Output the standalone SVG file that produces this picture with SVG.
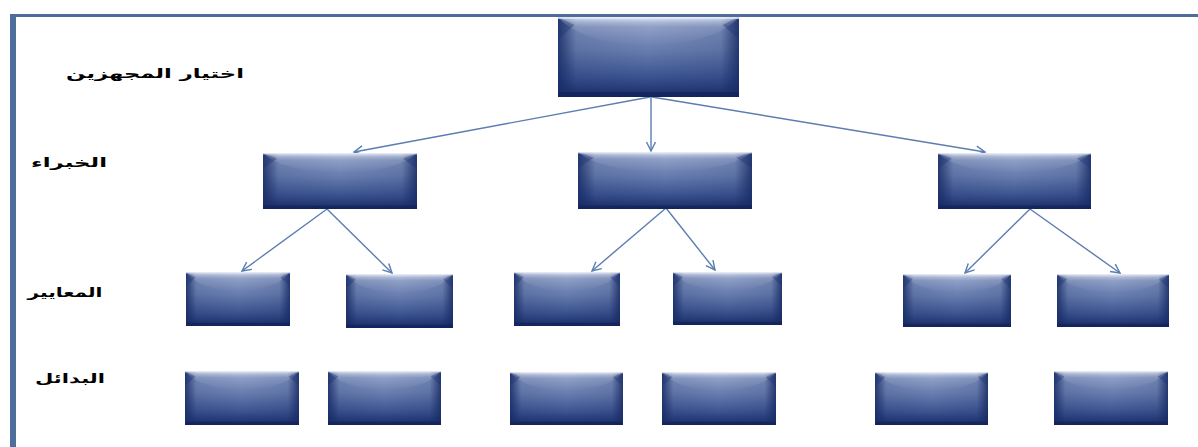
<svg xmlns="http://www.w3.org/2000/svg" xmlns:xlink="http://www.w3.org/1999/xlink" width="1198" height="447" viewBox="0 0 1198 447">
<style>
.lbl{font-family:"DejaVu Sans","Noto Sans",sans-serif;font-weight:bold;font-size:13px;fill:#000;text-anchor:middle}
.con line{stroke:#5b7db0;stroke-width:1.4;marker-end:url(#arr)}
.frame{stroke:#4d6d9a;fill:none}
</style>
<defs>
<linearGradient id="gv" x1="0" y1="0" x2="0" y2="1">
<stop offset="0" stop-color="#b4c2e0"/>
<stop offset="0.07" stop-color="#8497c2"/>
<stop offset="0.4" stop-color="#6a7fb0"/>
<stop offset="0.75" stop-color="#3b5390"/>
<stop offset="1" stop-color="#182b66"/>
</linearGradient>
<linearGradient id="gh" x1="0" y1="0" x2="1" y2="0">
<stop offset="0" stop-color="#172a64" stop-opacity="0.85"/>
<stop offset="0.1" stop-color="#172a64" stop-opacity="0.15"/>
<stop offset="0.5" stop-color="#172a64" stop-opacity="0"/>
<stop offset="0.9" stop-color="#172a64" stop-opacity="0.15"/>
<stop offset="1" stop-color="#172a64" stop-opacity="0.85"/>
</linearGradient>
<linearGradient id="ghl" x1="0" y1="0" x2="0" y2="1">
<stop offset="0" stop-color="#ffffff" stop-opacity="0.55"/>
<stop offset="0.35" stop-color="#ffffff" stop-opacity="0.12"/>
<stop offset="1" stop-color="#ffffff" stop-opacity="0"/>
</linearGradient>
<symbol id="box" viewBox="0 0 100 50" preserveAspectRatio="none">
<rect x="0" y="0" width="100" height="50" fill="url(#gv)"/>
<rect x="0" y="0" width="100" height="50" fill="url(#gh)"/>
<path d="M0,0 L100,0 Q88,16 50,18 Q12,16 0,0 Z" fill="url(#ghl)"/>
<path d="M0,0 L9,5 L0,14 Z M100,0 L91,5 L100,14 Z" fill="#1f3574" fill-opacity="0.4"/>
<rect x="0" y="0" width="100" height="1.2" fill="#e6ecf8" fill-opacity="0.8"/>
<rect x="0" y="47" width="100" height="3" fill="#122258" fill-opacity="0.7"/>
</symbol>
<marker id="arr" markerUnits="userSpaceOnUse" markerWidth="14" markerHeight="14" viewBox="-11 -7 14 14" refX="0" refY="0" orient="auto">
<path d="M-9,-4.5 L0,0 L-9,4.5" fill="none" stroke="#5b7db0" stroke-width="1.4"/>
</marker>
</defs>
<rect width="1198" height="447" fill="#ffffff"/>
<line class="frame" x1="10" y1="15.5" x2="1198" y2="15.5" stroke-width="3"/>
<line class="frame" x1="13" y1="14" x2="13" y2="447" stroke-width="6"/>

<g id="labels">
<text class="lbl" x="155" y="78" textLength="178" lengthAdjust="spacingAndGlyphs">اختيار  المجهزين</text>
<text class="lbl" x="69" y="167" textLength="76" lengthAdjust="spacingAndGlyphs">الخبراء</text>
<text class="lbl" x="65" y="297" textLength="75" lengthAdjust="spacingAndGlyphs">المعايير</text>
<text class="lbl" x="70" y="383" textLength="70" lengthAdjust="spacingAndGlyphs">البدائل</text>
</g>

<g id="connectors" class="con">
<line x1="650" y1="97" x2="354" y2="152"/>
<line x1="651" y1="97" x2="651" y2="151"/>
<line x1="652" y1="97" x2="985" y2="152"/>
<line x1="327" y1="209" x2="242" y2="271"/>
<line x1="327" y1="209" x2="392" y2="273"/>
<line x1="666" y1="208" x2="592" y2="271"/>
<line x1="666" y1="208" x2="715" y2="270"/>
<line x1="1030" y1="209" x2="965" y2="273"/>
<line x1="1030" y1="209" x2="1120" y2="273"/>
</g>

<g id="n0"><use xlink:href="#box" x="558" y="17" width="181" height="80"/></g>
<g id="n1"><use xlink:href="#box" x="263" y="153" width="154" height="56"/></g>
<g id="n2"><use xlink:href="#box" x="578" y="152" width="174" height="57"/></g>
<g id="n3"><use xlink:href="#box" x="938" y="153" width="153" height="56"/></g>
<g id="n4"><use xlink:href="#box" x="186" y="272" width="104" height="54"/></g>
<g id="n5"><use xlink:href="#box" x="346" y="274" width="107" height="54"/></g>
<g id="n6"><use xlink:href="#box" x="514" y="272" width="106" height="54"/></g>
<g id="n7"><use xlink:href="#box" x="673" y="272" width="109" height="53"/></g>
<g id="n8"><use xlink:href="#box" x="903" y="274" width="108" height="53"/></g>
<g id="n9"><use xlink:href="#box" x="1057" y="274" width="112" height="53"/></g>
<g id="n10"><use xlink:href="#box" x="185" y="371" width="114" height="54"/></g>
<g id="n11"><use xlink:href="#box" x="328" y="371" width="113" height="54"/></g>
<g id="n12"><use xlink:href="#box" x="510" y="372" width="113" height="53"/></g>
<g id="n13"><use xlink:href="#box" x="662" y="372" width="114" height="53"/></g>
<g id="n14"><use xlink:href="#box" x="875" y="372" width="113" height="53"/></g>
<g id="n15"><use xlink:href="#box" x="1054" y="371" width="114" height="54"/></g>
</svg>
